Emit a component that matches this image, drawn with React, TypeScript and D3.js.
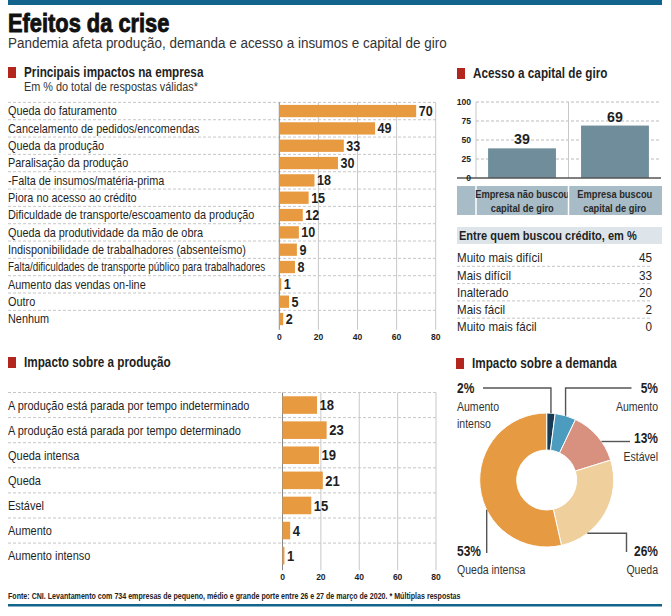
import * as d3 from "d3";

const FONT = "'Liberation Sans', Arial, sans-serif";

const IMPACT_LABELS = [
  "Queda do faturamento",
  "Cancelamento de pedidos/encomendas",
  "Queda da produção",
  "Paralisação da produção",
  "-Falta de insumos/matéria-prima",
  "Piora no acesso ao crédito",
  "Dificuldade de transporte/escoamento da produção",
  "Queda da produtividade da mão de obra",
  "Indisponibilidade de trabalhadores (absenteísmo)",
  "Falta/dificuldades de transporte público para trabalhadores",
  "Aumento das vendas on-line",
  "Outro",
  "Nenhum",
];
const IMPACT_VALUES = [70, 49, 33, 30, 18, 15, 12, 10, 9, 8, 1, 5, 2];

const PROD_LABELS = [
  "A produção está parada por tempo indeterminado",
  "A produção está parada por tempo determinado",
  "Queda intensa",
  "Queda",
  "Estável",
  "Aumento",
  "Aumento intenso",
];
const PROD_VALUES = [18, 23, 19, 21, 15, 4, 1];

const BAR_TICKS = [0, 20, 40, 60, 80];

const CAPITAL_LABELS = [
  ["Empresa não buscou", "capital de giro"],
  ["Empresa buscou", "capital de giro"],
];
const CAPITAL_VALUES = [39, 69];
const CAPITAL_TICKS = [0, 25, 50, 75, 100];

const CREDIT_LABELS = ["Muito mais difícil", "Mais difícil", "Inalterado", "Mais fácil", "Muito mais fácil"];
const CREDIT_VALUES = [45, 33, 20, 2, 0];

const DEMAND_LABELS = ["Aumento intenso", "Aumento", "Estável", "Queda", "Queda intensa"];
const DEMAND_VALUES = [2, 5, 13, 26, 53];
const DEMAND_COLORS = ["#193a53", "#4c9cbf", "#d9917f", "#efcf9c", "#e69a41"];

const ORANGE = "#e89a40";
const BLUE = "#12648d";
const RED = "#b3261e";
const INK = "#1f1f1f";
const GRID = "#c8c8c8";

// condensed text: the reference uses a narrow face, so squeeze a regular one
function T({ x, y, k = 0.86, children, ...rest }: any) {
  return (
    <text transform={`translate(${x},${y}) scale(${k},1)`} {...rest}>
      {children}
    </text>
  );
}

function SectionTitle({ x, y, text }: { x: number; y: number; text: string }) {
  return (
    <g>
      <rect x={x} y={y - 10} width={8} height={11} fill={RED} />
      <T x={x + 16} y={y} k={0.84} fontSize={14} fontWeight="bold" fill={INK}>
        {text}
      </T>
    </g>
  );
}

function HBars({
  labels,
  values,
  x0,
  x1,
  top,
  step,
  pad,
  valueSize,
  labelSize,
  labelK,
}: {
  labels: string[];
  values: number[];
  x0: number;
  x1: number;
  top: number;
  step: number;
  pad: number;
  valueSize: number;
  labelSize: number;
  labelK: number;
}) {
  const x = d3.scaleLinear().domain([0, 80]).range([x0, x1]);
  const y = d3
    .scaleBand<string>()
    .domain(labels)
    .range([top, top + step * labels.length])
    .paddingInner(pad)
    .paddingOuter(pad / 2);
  const bottom = top + step * labels.length;
  const gap = (y.step() * pad) / 2;
  return (
    <g>
      {labels.map((l) => (
        <line
          key={"h" + l}
          x1={8}
          x2={x1}
          y1={y(l)! - gap}
          y2={y(l)! - gap}
          stroke="#b8b8b8"
          strokeDasharray="3 2"
          strokeWidth={0.8}
        />
      ))}
      {BAR_TICKS.map((t) => (
        <line
          key={"v" + t}
          x1={x(t)}
          x2={x(t)}
          y1={top}
          y2={bottom + 2}
          stroke={t === 0 ? "#888" : GRID}
          strokeWidth={1}
        />
      ))}
      {labels.map((l, i) => (
        <g key={l}>
          <rect x={x(0)} y={y(l)} width={x(values[i]) - x(0)} height={y.bandwidth()} fill={ORANGE} />
          <T
            x={8}
            y={y(l)! + y.bandwidth() / 2}
            dy="0.35em"
            k={l.length > 55 ? 0.79 : labelK}
            fontSize={labelSize}
            fill={INK}
          >
            {l}
          </T>
          <T
            x={x(values[i]) + 2.5}
            y={y(l)! + y.bandwidth() / 2}
            dy="0.36em"
            k={0.9}
            fontSize={valueSize}
            fontWeight="bold"
            fill={INK}
          >
            {values[i]}
          </T>
        </g>
      ))}
      {BAR_TICKS.map((t) => (
        <T key={"t" + t} x={x(t)} y={bottom + 12} k={0.9} textAnchor="middle" fontSize={9.5} fontWeight="bold" fill={INK}>
          {t}
        </T>
      ))}
    </g>
  );
}

function CapitalChart() {
  const y = d3.scaleLinear().domain([0, 100]).range([178, 102]);
  const groups = CAPITAL_LABELS.map((l) => l.join(" "));
  const x = d3.scaleBand<string>().domain(groups).range([476, 661]).paddingInner(0.27).paddingOuter(0.13);
  const cells = d3.scaleBand<string>().domain(groups).range([476, 661]);
  return (
    <g>
      {CAPITAL_TICKS.filter((t) => t > 0).map((t) => (
        <line key={t} x1={476} x2={661} y1={y(t)} y2={y(t)} stroke="#aaa" strokeDasharray="3 2" strokeWidth={0.8} />
      ))}
      <line x1={476} x2={476} y1={y(100)} y2={y(0)} stroke={GRID} />
      <line x1={cells(groups[1])} x2={cells(groups[1])} y1={y(100)} y2={y(0)} stroke={GRID} />
      {groups.map((g, i) => (
        <g key={g}>
          <rect x={x(g)} y={y(CAPITAL_VALUES[i])} width={x.bandwidth()} height={y(0) - y(CAPITAL_VALUES[i])} fill="#6f8d9a" />
          <T
            x={x(g)! + x.bandwidth() / 2}
            y={y(CAPITAL_VALUES[i]) - 4}
            k={0.95}
            textAnchor="middle"
            fontSize={15}
            fontWeight="bold"
            fill={INK}
          >
            {CAPITAL_VALUES[i]}
          </T>
        </g>
      ))}
      <line x1={457} x2={661} y1={y(0)} y2={y(0)} stroke="#555" strokeWidth={1.3} />
      {CAPITAL_TICKS.map((t) => (
        <T key={t} x={471} y={y(t)} dy="0.35em" k={0.9} textAnchor="end" fontSize={9.5} fontWeight="bold" fill={INK}>
          {t}
        </T>
      ))}
      <rect x={457} y={186} width={205} height={29} fill="#a7bcc6" />
      <line x1={476} x2={476} y1={186} y2={215} stroke="#fff" strokeWidth={1.5} />
      {groups.map((g, i) => (
        <g key={"c" + g}>
          {i > 0 && <line x1={cells(g)} x2={cells(g)} y1={186} y2={215} stroke="#fff" strokeWidth={1.5} />}
          {CAPITAL_LABELS[i].map((line, j) => (
            <T
              key={j}
              x={cells(g)! + cells.bandwidth() / 2}
              y={198 + j * 13.5}
              k={0.81}
              textAnchor="middle"
              fontSize={11.5}
              fontWeight="bold"
              fill="#2a2a2a"
            >
              {line}
            </T>
          ))}
        </g>
      ))}
    </g>
  );
}

function CreditTable() {
  const y = d3.scaleBand<string>().domain(CREDIT_LABELS).range([249, 335.5]);
  return (
    <g>
      <rect x={457} y={227} width={205} height={17} fill="#dde5ea" />
      <T x={459} y={240} k={0.85} fontSize={13} fontWeight="bold" fill={INK}>
        Entre quem buscou crédito, em %
      </T>
      {CREDIT_LABELS.map((l, i) => (
        <g key={l}>
          {i < CREDIT_LABELS.length - 1 && (
            <line
              x1={457}
              x2={652}
              y1={y(l)! + y.bandwidth()}
              y2={y(l)! + y.bandwidth()}
              stroke="#b8b8b8"
              strokeDasharray="3 2"
              strokeWidth={0.8}
            />
          )}
          <T x={457} y={y(l)! + y.bandwidth() / 2} dy="0.35em" k={0.89} fontSize={13} fill={INK}>
            {l}
          </T>
          <T x={652} y={y(l)! + y.bandwidth() / 2} dy="0.35em" k={0.9} textAnchor="end" fontSize={13} fill={INK}>
            {CREDIT_VALUES[i]}
          </T>
        </g>
      ))}
    </g>
  );
}

function DemandDonut() {
  const cx = 546.7;
  const cy = 480;
  const R = 67;
  const r = 30;
  const pie = d3.pie<number>().sort(null).value((d) => d);
  const arcs = pie(DEMAND_VALUES);
  const arc = d3.arc<d3.PieArcDatum<number>>().innerRadius(r).outerRadius(R);
  const mid = (a: d3.PieArcDatum<number>) => (a.startAngle + a.endAngle) / 2;
  const xAtY = (y: number, side: number) => cx + side * Math.sqrt(R * R - (y - cy) ** 2);
  const yAtX = (x: number, side: number) => cy + side * Math.sqrt(R * R - (x - cx) ** 2);

  const m0 = cx + R * Math.sin(mid(arcs[0]));
  const m1 = cx + R * Math.sin(mid(arcs[1]));
  const leaders = [
    `M483,388 H${m0} V${yAtX(m0, -1)}`,
    `M631.5,388 H${m1} V${yAtX(m1, -1)}`,
    `M630,441.5 H${xAtY(441.5, 1)}`,
    `M626.5,552 V533.3 H${xAtY(533.3, 1)}`,
    `M486.7,553 V${yAtX(486.7, 1)}`,
  ];
  const labelPos = [
    { x: 457, y: 393, anchor: "start", lines: ["Aumento", "intenso"] },
    { x: 658, y: 393, anchor: "end", lines: ["Aumento"] },
    { x: 658, y: 443, anchor: "end", lines: ["Estável"] },
    { x: 658, y: 556, anchor: "end", lines: ["Queda"] },
    { x: 457, y: 556, anchor: "start", lines: ["Queda intensa"] },
  ];
  return (
    <g>
      <g transform={`translate(${cx},${cy})`}>
        {arcs.map((a, i) => (
          <path key={DEMAND_LABELS[i]} d={arc(a) ?? ""} fill={DEMAND_COLORS[i]} stroke="#fff" strokeWidth={1} />
        ))}
      </g>
      {leaders.map((d, i) => (
        <path key={i} d={d} fill="none" stroke="#555" strokeWidth={1.4} />
      ))}
      {labelPos.map((p, i) => (
        <g key={"l" + i}>
          <T x={p.x} y={p.y} k={0.8} textAnchor={p.anchor} fontSize={15} fontWeight="bold" fill={INK}>
            {DEMAND_VALUES[i]}%
          </T>
          {p.lines.map((ln, j) => (
            <T key={j} x={p.x} y={p.y + 17.5 + j * 17} k={0.78} textAnchor={p.anchor} fontSize={13.5} fill="#333">
              {ln}
            </T>
          ))}
        </g>
      ))}
    </g>
  );
}

export default function App() {
  return (
    <div style={{ position: "absolute", left: 0, top: 0 }}>
      <svg width={671} height={616} viewBox="0 0 671 616" style={{ display: "block", fontFamily: FONT }}>
        <rect width={671} height={616} fill="#fff" />
        <rect x={8} y={0} width={654} height={5} fill={BLUE} />
        <T x={8} y={31.5} k={0.84} fontSize={26} fontWeight="bold" fill="#111" stroke="#111" strokeWidth={0.9}>
          Efeitos da crise
        </T>
        <T x={8} y={48} k={0.897} fontSize={15} fill="#333">
          Pandemia afeta produção, demanda e acesso a insumos e capital de giro
        </T>

        <SectionTitle x={8} y={77} text="Principais impactos na empresa" />
        <T x={24} y={91} k={0.87} fontSize={12.5} fill="#333">
          Em % do total de respostas válidas*
        </T>
        <HBars
          labels={IMPACT_LABELS}
          values={IMPACT_VALUES}
          x0={279.3}
          x1={435.7}
          top={102.4}
          step={17.33}
          pad={0.29}
          valueSize={14}
          labelSize={12.5}
          labelK={0.87}
        />

        <SectionTitle x={457} y={78} text="Acesso a capital de giro" />
        <CapitalChart />
        <CreditTable />

        <SectionTitle x={8} y={367} text="Impacto sobre a produção" />
        <HBars
          labels={PROD_LABELS}
          values={PROD_VALUES}
          x0={282.5}
          x1={436}
          top={392.5}
          step={25.1}
          pad={0.3}
          valueSize={14.5}
          labelSize={13}
          labelK={0.845}
        />

        <SectionTitle x={456} y={368} text="Impacto sobre a demanda" />
        <DemandDonut />

        <T x={8} y={599} k={0.807} fontSize={8.8} fontWeight="bold" fill="#222">
          Fonte: CNI. Levantamento com 734 empresas de pequeno, médio e grande porte entre 26 e 27 de março de 2020. * Múltiplas respostas
        </T>
        <rect x={8} y={604} width={654} height={2.5} fill={BLUE} />
      </svg>
    </div>
  );
}
